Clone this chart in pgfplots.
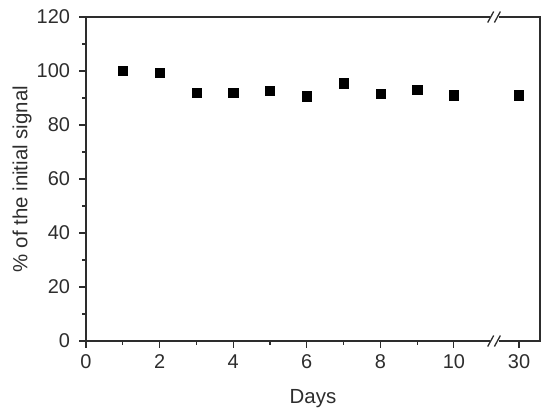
\documentclass[border=0pt]{standalone}
\usepackage{pgfplots}
\pgfplotsset{compat=1.18}
\usepackage{fontspec}
\setmainfont{Liberation Sans}
\definecolor{axgray}{RGB}{45,45,45}
\begin{document}
\fontsize{19}{22}\selectfont
\begin{tikzpicture}
\begin{axis}[
  name=ax,
  scale only axis,
  width=454bp, height=324bp,
  xmin=0, xmax=12.34,
  ymin=0, ymax=120,
  xtick={0,2,4,6,8,10,11.77},
  xticklabels={0,2,4,6,8,10,30},
  minor xtick={1,3,5,7,9},
  ytick={0,20,...,120},
  minor ytick={10,30,...,110},
  xtick pos=bottom, ytick pos=left,
  tick align=outside,
  major tick length=6.5bp, minor tick length=3.5bp,
  axis line style={axgray, line width=1.3bp},
  every tick/.style={axgray, line width=1.1bp},
  tick label style={font=\fontsize{20}{23}\selectfont, text=axgray},
  yticklabel style={xshift=-3bp},
  xticklabel style={yshift=-1bp},
  label style={font=\fontsize{20.5}{24}\selectfont, text=axgray},
  /pgf/number format/assume math mode=true,
  xlabel={Days},
  ylabel={\% of the initial signal},
  xlabel style={at={(axis description cs:0.5,0)}, anchor=center, yshift=-58bp},
  ylabel style={at={(axis description cs:-0.141,0.5)}, anchor=center},
  clip=false,
]
% day 30 placed at x=11.77 on the broken axis
\addplot[only marks, mark=square*, mark size=4.6bp, black] coordinates {
  (1,100) (2,99.5) (3,92.1) (4,92) (5,92.7) (6,90.7) (7,95.5) (8,91.7) (9,93) (10,91) (11.77,91)
};
% axis break marks
\fill[white] (axis cs:11.0,0) ++(-1bp,-3bp) rectangle ++(9bp,6bp);
\draw[axgray, line width=1.3bp] (axis cs:11.0,0) ++(-3bp,-5.5bp) -- ++(6bp,11bp);
\draw[axgray, line width=1.3bp] (axis cs:11.0,0) ++(3.7bp,-5.5bp) -- ++(6bp,11bp);
\fill[white] (axis cs:11.0,120) ++(-1bp,-3bp) rectangle ++(9bp,6bp);
\draw[axgray, line width=1.3bp] (axis cs:11.0,120) ++(-3bp,-5.5bp) -- ++(6bp,11bp);
\draw[axgray, line width=1.3bp] (axis cs:11.0,120) ++(3.7bp,-5.5bp) -- ++(6bp,11bp);
\end{axis}
\pgfresetboundingbox
\path ([xshift=-86bp,yshift=-74bp]ax.south west) rectangle ([xshift=10bp,yshift=17bp]ax.north east);
\end{tikzpicture}
\end{document}
